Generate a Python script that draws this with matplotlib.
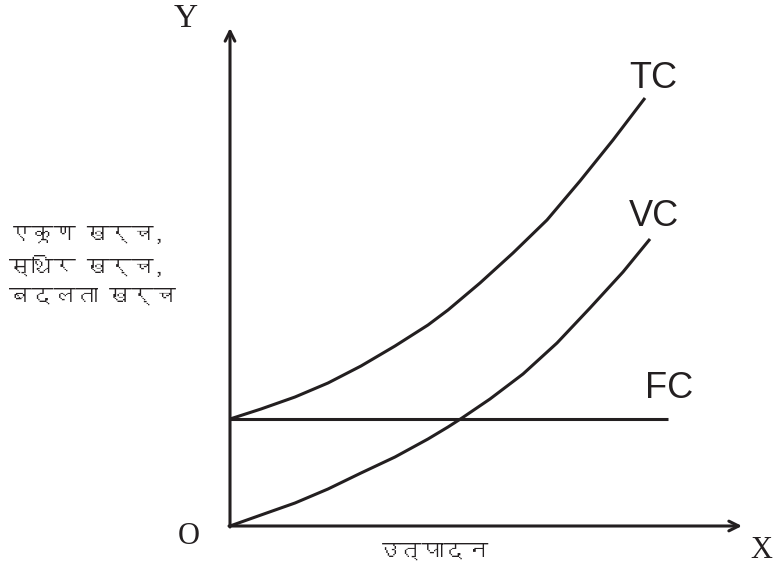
import matplotlib
matplotlib.use("Agg")
import matplotlib.pyplot as plt
from matplotlib import font_manager as fm
from matplotlib.ft2font import FT2Font

# values (output units along X, cost units along Y)
tc_q = [0, 31, 65, 98, 131, 165, 198, 218, 250, 283, 317, 350, 383, 415]
tc_vals = [107, 117, 129, 143, 160, 180, 201, 216, 243, 273, 306, 345, 386, 428]
vc_q = [0, 31, 65, 98, 131, 165, 198, 218, 232, 260, 293, 327, 360, 393, 420]
vc_vals = [0, 11, 23, 37, 53, 69, 87, 99, 108, 127, 152, 183, 218, 254, 287]
fc_q = [0, 438]
fc_vals = [107, 107]

y_label_lines = ["एकूण खर्च,", "स्थिर खर्च,", "बदलता खर्च"]
x_label = "उत्पादन"
curve_names = ["TC", "VC", "FC"]

INK = "#231f20"


def find_deva_font():
    # look for any installed font that has Devanagari glyphs
    for f in fm.fontManager.ttflist:
        try:
            cmap = FT2Font(f.fname).get_charmap()
        except Exception:
            continue
        if 0x0915 in cmap and 0x0930 in cmap:
            return f.name
    return None


deva = find_deva_font()
deva_family = [deva, "DejaVu Sans"] if deva else ["DejaVu Sans"]

fig = plt.figure(figsize=(7.73, 5.75), dpi=100)
W, H = 773, 575
ox, oy = 230, 526
ax = fig.add_axes([ox / W, (H - oy) / H, (W - ox) / W, oy / H])
ax.set_xlim(0, W - ox)
ax.set_ylim(0, oy)
ax.axis("off")

lw = 2.2
style = dict(color=INK, lw=lw, solid_capstyle="butt", solid_joinstyle="round")
ax.plot(tc_q, tc_vals, **style)
ax.plot(vc_q, vc_vals, **style)
ax.plot(fc_q, fc_vals, **style)

# axes with arrows
arrow = dict(arrowstyle="->,head_length=0.7,head_width=0.35", color=INK, lw=2.2,
             shrinkA=0, shrinkB=0)
ax.annotate("", xy=(0, 498), xytext=(0, -1), xycoords="data", arrowprops=arrow,
            annotation_clip=False)
ax.annotate("", xy=(512, 0), xytext=(-1, 0), xycoords="data", arrowprops=arrow,
            annotation_clip=False)

serif = "Liberation Serif"
ax.text(-44, 507, "Y", family=serif, fontsize=24, color=INK, ha="center", va="center")
ax.text(-41, -11, "O", family=serif, fontsize=22, color=INK, ha="center", va="center")
ax.text(531, -25, "X", family=serif, fontsize=22, color=INK, ha="center", va="center")

sans = "Liberation Sans"
ax.text(423, 447, curve_names[0], family=sans, fontsize=26, color=INK, ha="center", va="center")
ax.text(424, 310, curve_names[1], family=sans, fontsize=26, color=INK, ha="center", va="center")
ax.text(439, 138, curve_names[2], family=sans, fontsize=26, color=INK, ha="center", va="center")

for i, line in enumerate(y_label_lines):
    ax.text(-221, 291 - i * 31, line, family=deva_family, fontsize=16, color=INK,
            ha="left", va="center")
ax.text(203, -26, x_label, family=deva_family, fontsize=16, color=INK,
        ha="center", va="center")

fig.savefig("out.png", dpi=100)
